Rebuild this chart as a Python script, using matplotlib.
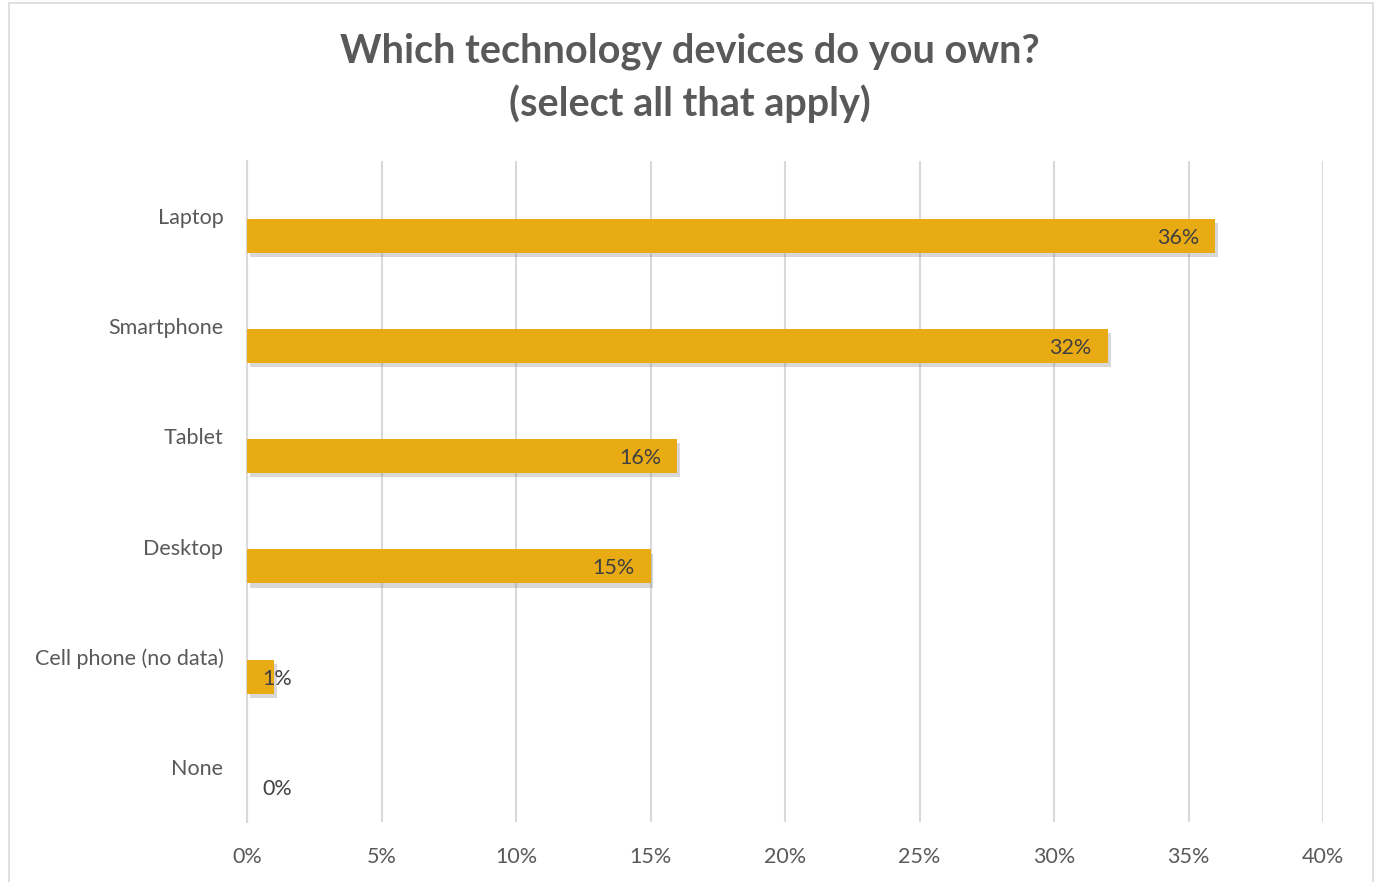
# devices owned survey bar chart

import matplotlib.pyplot as plt
from matplotlib.patches import Rectangle
from matplotlib import patheffects

plt.rcParams['font.family'] = ['Lato', 'DejaVu Sans']

devices = ["Laptop", "Smartphone", "Tablet", "Desktop", "Cell phone (no data)", "None"]
share = [36, 32, 16, 15, 1, 0]
x_ticks = [0, 5, 10, 15, 20, 25, 30, 35, 40]
x_tick_labels = ["0%", "5%", "10%", "15%", "20%", "25%", "30%", "35%", "40%"]

fig = plt.figure(figsize=(13.76, 8.82), dpi=100)
ax = fig.add_axes([247 / 1376, 1 - 822 / 882, (1323 - 247) / 1376, (822 - 161) / 882])

# chart frame
fig.patches.append(Rectangle((9 / 1376, -0.01), 1364 / 1376, 1 - 3 / 882 + 0.01,
                             transform=fig.transFigure, fill=False,
                             edgecolor="#D9D9D9", linewidth=1.2))

pos = list(range(len(devices)))
bar_pos = [p + 0.18 for p in pos]
bars = ax.barh(bar_pos, share, height=0.31, color="#E9AB14", zorder=3)
for b in bars:
    b.set_path_effects([patheffects.SimplePatchShadow(offset=(2, -3), shadow_rgbFace="#7F7F7F", alpha=0.3),
                        patheffects.Normal()])

for y, v in zip(bar_pos, share):
    if v >= 5:
        ax.annotate(f"{v}%", (v, y), xytext=(-16, -2), textcoords="offset pixels",
                    ha="right", va="center", fontsize=15.5, color="#404040", zorder=4)
    else:
        ax.annotate(f"{v}%", (0, y), xytext=(15, -2), textcoords="offset pixels",
                    ha="left", va="center", fontsize=15.5, color="#404040", zorder=4)

ax.set_xlim(0, 40)
ax.set_ylim(len(devices) - 0.5, -0.5)
ax.set_xticks(x_ticks)
ax.set_xticklabels(x_tick_labels)
ax.set_yticks(pos)
ax.set_yticklabels(devices)
ax.tick_params(axis="both", length=0, labelsize=15.5, labelcolor="#595959")
ax.tick_params(axis="x", pad=18)
ax.tick_params(axis="y", pad=17)
ax.grid(axis="x", color="#D9D9D9", linewidth=1.5, zorder=0)
for s in ["top", "right", "bottom"]:
    ax.spines[s].set_visible(False)
ax.spines["left"].set_color("#D9D9D9")
ax.spines["left"].set_linewidth(1.5)

fig.text(690 / 1376, 1 - 78 / 882, "Which technology devices do you own?\n(select all that apply)",
         ha="center", va="center", fontsize=28.5, fontweight="bold", color="#595959",
         linespacing=1.45)

fig.savefig("out.png", dpi=100)
